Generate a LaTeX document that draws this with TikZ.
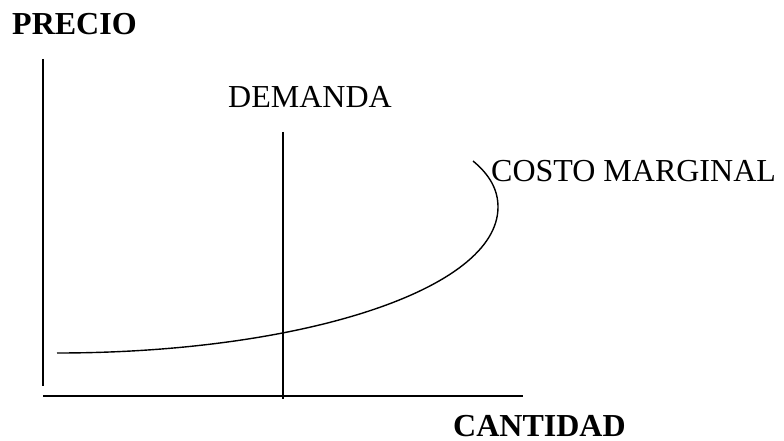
\documentclass[tikz,border=0pt]{standalone}
\usepackage{fontspec}
\setmainfont{Liberation Serif}
\usepackage{tikz}
\tikzstyle{axis}=[
        draw=black,
        line width=1.2pt
]
\tikzstyle{curve}=[
        draw=black,
        line width=1.4pt
]
\tikzstyle{label}=[
        inner sep=0pt,
        anchor=base west,
        font=\fontsize{32}{38}\selectfont
]
\tikzstyle{axislabel}=[
        label,
        font=\fontsize{32}{38}\selectfont\bfseries
]

\begin{document}
\begin{tikzpicture}[x=1pt,y=-1pt]
                        \useasboundingbox (0,0) rectangle (784,441);

                        \node[axislabel] (precio) at (12,35) {PRECIO};
                        \node[axislabel] (cantidad) at (453,436) {CANTIDAD};
                        \node[label] (demanda) at (228,108) {DEMANDA};
                        \node[label] (costo) at (491,181) {COSTO MARGINAL};

                        \draw[axis] (43,59) -- (43,386);
                        \draw[axis] (43,396) -- (523,396);

                        \draw[axis] (283,132) -- (283,399);

                        \draw[curve] (57,353) .. controls (300,353) and (498,290) .. (498,207)
                                     .. controls (498,190) and (490,175) .. (473,161);

                    \end{tikzpicture}
\end{document}
